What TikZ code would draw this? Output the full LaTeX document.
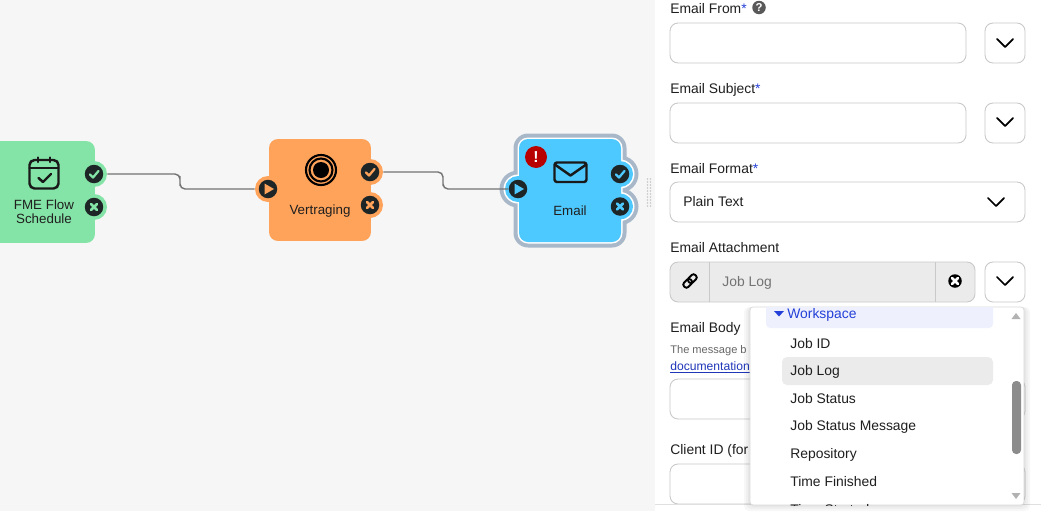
\documentclass[tikz,border=0pt]{standalone}
\usepackage{fontspec}
\setmainfont{Liberation Sans}
\usetikzlibrary{positioning}

\definecolor{canvasgrey}{HTML}{F6F6F6}
\definecolor{schedgreen}{HTML}{84E3A6}
\definecolor{waitorange}{HTML}{FFA35A}
\definecolor{mailblue}{HTML}{4EC9FF}
\definecolor{ringgrey}{HTML}{A9B8C9}
\definecolor{portdark}{HTML}{1E2526}
\definecolor{inkdark}{HTML}{1F1F1F}
\definecolor{edgegrey}{HTML}{C9C9C9}
\definecolor{starblue}{HTML}{2440D8}
\definecolor{paleblue}{HTML}{EEF1FD}
\definecolor{hovergrey}{HTML}{EBEBEB}

\tikzset{
  x=0.02cm, y=-0.02cm,
  flowbox/.style={inner sep=0pt, minimum height=2.04cm, rounded corners=0.18cm},
  halo/.style={circle, inner sep=0pt, minimum size=0.52cm},
  port/.style={circle, fill=portdark, inner sep=0pt, minimum size=0.37cm},
  wire/.style={draw=black!55, line width=0.8pt, rounded corners=0.1cm},
  flowtext/.style={align=center, text=inkdark, inner sep=0pt, font=\fontsize{7.6}{8.2}\selectfont},
  icon/.style={draw=black!90, line width=1.4pt, line cap=round, line join=round},
  fieldbox/.style={draw=edgegrey, fill=white, line width=0.5pt, rounded corners=0.16cm, inner sep=0pt, minimum height=0.8cm},
  fieldtext/.style={anchor=base west, yshift=-0.1cm, inner sep=0pt, text=inkdark, font=\fontsize{7.9}{9}\selectfont},
  chevron/.style={draw=black, line width=1pt, line cap=round, line join=round},
}

% glyphs inside the ports
\newcommand{\okglyph}[2]{\draw[#2, line width=1.3pt, line cap=round, line join=round, shift={(#1)}] (-4,0.5) -- (-1,3.5) -- (4.5,-3);}
\newcommand{\failglyph}[2]{\draw[#2, line width=1.5pt, line cap=round, shift={(#1)}] (-3,-3) -- (3,3) (-3,3) -- (3,-3);}
\newcommand{\runglyph}[2]{\fill[#2, shift={(#1)}] (-3.5,-5.5) -- (6,0) -- (-3.5,5.5) -- cycle;}
\newcommand{\chevronat}[2]{\draw[chevron] (#1-8,#2-4) -- (#1,#2+4) -- (#1+8,#2-4);}

\begin{document}
\begin{tikzpicture}

\clip (0,0) rectangle (1041,511);
\fill[white] (0,0) rectangle (1041,511);
\fill[canvasgrey] (0,0) rectangle (655,511);

% grip of the panel
\foreach \gx in {647.5,650.5} \foreach \gy in {179,182,...,206}
  \fill[black!22] (\gx,\gy) circle (0.8);

% Schedule
\node[flowbox, fill=schedgreen, minimum width=2.14cm] (schedule) at (41.5,192) {};
\node[halo, fill=schedgreen] (schedOkHalo) at (94,174) {};
\node[halo, fill=schedgreen] (schedFailHalo) at (94,207) {};
\node[port] (schedOk) at (94,174) {};
\node[port] (schedFail) at (94,207) {};
\okglyph{schedOk}{schedgreen}
\failglyph{schedFail}{schedgreen}
\node[flowtext] (schedLabel) at (44,211.5) {FME Flow\\Schedule};
\draw[icon, rounded corners=0.1cm] (29.5,160) rectangle (58.5,188.5);
\draw[icon] (29.5,168) -- (58.5,168) (38,157.5) -- (38,162) (50,157.5) -- (50,162);
\draw[icon] (38.5,178) -- (43,182) -- (51,174);

% Vertraging
\node[flowbox, fill=waitorange, minimum width=2.04cm] (wait) at (320,190) {};
\node[halo, fill=waitorange] (waitInHalo) at (268,189) {};
\node[halo, fill=waitorange] (waitOkHalo) at (370,172) {};
\node[halo, fill=waitorange] (waitFailHalo) at (370,205) {};
\node[port] (waitIn) at (268,189) {};
\node[port] (waitOk) at (370,172) {};
\node[port] (waitFail) at (370,205) {};
\runglyph{waitIn}{waitorange}
\okglyph{waitOk}{waitorange}
\failglyph{waitFail}{waitorange}
\node[flowtext] (waitLabel) at (320,211) {Vertraging};
\draw[black, line width=1.2pt] (321,170) circle (15) (321,170) circle (11.5);
\fill[black] (321,170) circle (8);

% Email, three outlines on top of each other
\foreach \grow/\tone/\bend in {5.5/ringgrey/0.29cm,1.5/white/0.21cm,0/mailblue/0.18cm} {
  \fill[\tone, rounded corners=\bend] (519-\grow,139-\grow) rectangle (621+\grow,242+\grow);
  \fill[\tone] (518,189) circle (13+\grow);
  \fill[\tone] (620,174) circle (13+\grow);
  \fill[\tone] (620,206.5) circle (13+\grow);
}
\node[flowbox, minimum width=2.04cm] (email) at (570,190.5) {};
\node[port] (emailIn) at (518,189) {};
\node[port] (emailOk) at (620,174) {};
\node[port] (emailFail) at (620,206.5) {};
\runglyph{emailIn}{mailblue}
\okglyph{emailOk}{mailblue}
\failglyph{emailFail}{mailblue}
\node[flowtext] (emailLabel) at (570,211) {Email};
\draw[icon, rounded corners=0.05cm] (554.5,162.5) rectangle (586.5,182);
\draw[icon] (555.5,165) -- (570.5,175.5) -- (585.5,165);
\node[circle, fill=red!72!black, text=white, inner sep=0pt, minimum size=0.44cm, font=\bfseries\fontsize{9}{9}\selectfont] (emailAlert) at (536,157) {!};

% Wires
\coordinate (bendA) at (180,181);
\coordinate (bendB) at (443,181);
\draw[wire] (schedOkHalo.east) -| (bendA) |- (waitInHalo.west);
\draw[wire] (waitOkHalo.east) -| (bendB) |- (emailIn.west);

% Panel
\node[fieldtext] (fromLabel) at (670,8) {Email From{\color{starblue}*}};
\node[circle, fill=black!65, text=white, inner sep=0pt, minimum size=0.27cm, font=\bfseries\fontsize{6.5}{7}\selectfont] (fromHelp) at (759,7.5) {?};
\node[fieldbox, minimum width=5.92cm] (fromField) at (818,43) {};
\node[fieldbox, minimum width=0.8cm] (fromButton) at (1005,43) {};
\chevronat{1005}{43}

\node[fieldtext] (subjectLabel) at (670,88) {Email Subject{\color{starblue}*}};
\node[fieldbox, minimum width=5.92cm] (subjectField) at (818,123) {};
\node[fieldbox, minimum width=0.8cm] (subjectButton) at (1005,123) {};
\chevronat{1005}{122}

\node[fieldtext] (formatLabel) at (670,168) {Email Format{\color{starblue}*}};
\node[fieldbox, minimum width=7.1cm] (formatField) at (847.5,202) {};
\node[fieldtext] (formatValue) at (683,201) {Plain Text};
\chevronat{996}{202}

\node[fieldtext] (attachLabel) at (670,247) {Email Attachment};
\node[fieldbox, fill=hovergrey, minimum width=6.1cm] (attachField) at (822.5,282) {};
\draw[edgegrey, line width=0.5pt] (709.5,262) -- (709.5,302) (935.5,262) -- (935.5,302);
\node[fieldtext, text=black!55] (attachValue) at (722,281) {Job Log};
\node[fieldbox, minimum width=0.8cm] (attachButton) at (1005,282) {};
\chevronat{1005}{281}
\node[circle, fill=black, inner sep=0pt, minimum size=0.27cm] (attachClear) at (955,281) {};
\failglyph{attachClear}{white}
% link icon
\begin{scope}[shift={(690,281)}, rotate=45]
  \draw[black, line width=1.1pt, rounded corners=0.05cm] (-8,-3) rectangle (1.5,3);
  \draw[black, line width=1.1pt, rounded corners=0.05cm] (-1.5,-3) rectangle (8,3);
\end{scope}

\node[fieldtext] (bodyLabel) at (670,327) {Email Body};
\node[fieldtext, text=black!60, font=\fontsize{6.3}{7}\selectfont, yshift=0.02cm] (bodyHelp) at (670,349) {The message b};
\node[fieldtext, text=starblue!85!black, font=\fontsize{6.9}{7}\selectfont, yshift=0.02cm] (bodyLink) at (670,366) {\underline{documentation}};
\node[fieldbox, minimum width=7.1cm] (bodyField) at (847.5,399) {};
\node[fieldtext] (clientLabel) at (670,449) {Client ID (for};
\node[fieldbox, minimum width=7.1cm] (clientField) at (847.5,484) {};
\draw[black!12, line width=0.5pt] (655,504.5) -- (1041,504.5);

% Dropdown
\foreach \spread in {6,4,2}
  \fill[black, opacity=0.03, rounded corners=0.1cm] (750-\spread,307) rectangle (1024+\spread,505+\spread);
\node[draw=black!15, fill=white, line width=0.4pt, inner sep=0pt, minimum width=5.48cm, minimum height=3.96cm, rounded corners=0.06cm] (dropdown) at (887,406) {};
\begin{scope}
  \clip[rounded corners=0.06cm] (750,307) rectangle (1024,505);
  \fill[paleblue, rounded corners=0.08cm] (766,300) rectangle (993,328);
  \fill[hovergrey, rounded corners=0.1cm] (782,357) rectangle (993,385);
  \node[fieldtext, text=starblue] (optWorkspace) at (787,313) {Workspace};
  \fill[starblue] (774,311) -- (784,311) -- (779,316.5) -- cycle;
  \node[fieldtext] (optId) at (790,343) {Job ID};
  \node[fieldtext] (optLog) at (790,370) {Job Log};
  \node[fieldtext] (optStatus) at (790,398) {Job Status};
  \node[fieldtext] (optMessage) at (790,425) {Job Status Message};
  \node[fieldtext] (optRepo) at (790,453) {Repository};
  \node[fieldtext] (optFinished) at (790,481) {Time Finished};
  \node[fieldtext] (optStarted) at (790,509) {Time Started};
\end{scope}
% scrollbar
\fill[black!45, rounded corners=0.08cm] (1012,381) rectangle (1021,454);
\fill[black!30] (1011.5,319) -- (1020.5,319) -- (1016,313) -- cycle;
\fill[black!30] (1011.5,493) -- (1020.5,493) -- (1016,499) -- cycle;

\end{tikzpicture}
\end{document}
